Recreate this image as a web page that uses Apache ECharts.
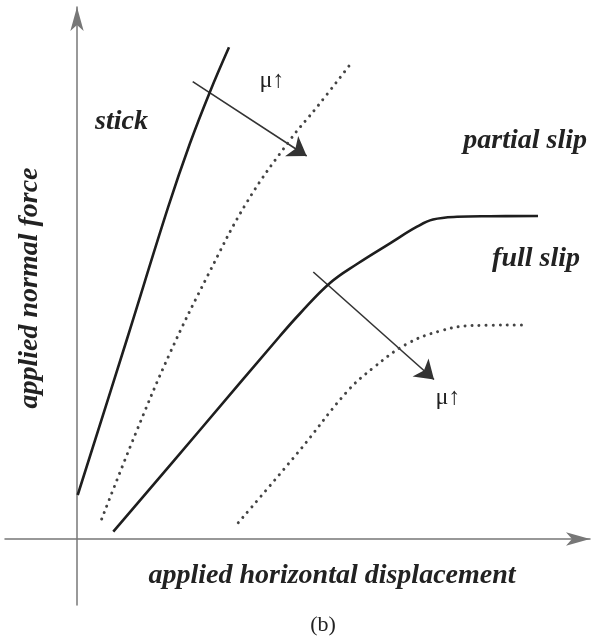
<!DOCTYPE html>
<html>
<head>
<meta charset="utf-8">
<script src="https://cdn.jsdelivr.net/npm/echarts@6/dist/echarts.min.js"></script>
<style>
  html, body { margin: 0; padding: 0; background: #fff; }
  #chart { width: 601px; height: 638px; }
</style>
</head>
<body>
<div id="chart"></div>
<script>
  // curves, arbitrary units (displacement, normal force)
  var stickBoundary = [[0.07, 4.4], [4.97, 19.9], [9.13, 33.23], [11.3, 39.57], [13.3, 44.73], [15.2, 49.17]];
  var stickBoundaryHighMu = [[2.47, 2.0], [5.8, 10.4], [9.3, 18.6], [13.1, 26.4], [17.0, 33.7], [21.3, 39.9], [24.0, 43.2], [27.2, 47.3]];
  var slipBoundary = [[3.63, 0.73], [12.3, 10.9], [20.3, 20.3], [22.3, 22.55], [25.3, 25.6], [28.0, 27.5], [31.3, 29.57], [34.0, 31.23], [35.6, 31.95], [38.0, 32.22], [41.3, 32.28], [46.1, 32.3]];
  var slipBoundaryHighMu = [[16.13, 1.63], [22.3, 8.9], [26.97, 14.7], [29.6, 17.1], [32.97, 19.5], [36.3, 20.8], [39.6, 21.35], [44.8, 21.4]];
  // arrows showing the effect of increasing friction coefficient
  var muArrows = [
    [[11.57, 45.73], [22.97, 38.3]],
    [[23.63, 26.7], [35.7, 15.95]]
  ];

  var chart = echarts.init(document.getElementById('chart'));
  var serif = '"Liberation Serif", "DejaVu Serif", serif';
  var labelFont = 'italic bold 28px ' + serif;

  function curve(data, dotted) {
    return {
      type: 'line',
      data: data,
      smooth: 0.4,
      showSymbol: false,
      silent: true,
      lineStyle: dotted
        ? { color: '#444', width: 3, type: [0.01, 7], cap: 'round' }
        : { color: '#1e1e1e', width: 2.6 }
    };
  }

  function axis(min, max) {
    return {
      type: 'value',
      min: min,
      max: max,
      axisLine: {
        onZero: true,
        symbol: ['none', 'arrow'],
        symbolSize: [10, 24],
        lineStyle: { color: '#777', width: 1.5 }
      },
      axisTick: { show: false },
      axisLabel: { show: false },
      splitLine: { show: false }
    };
  }

  chart.setOption({
    animation: false,
    grid: { left: 5, right: 11, top: 7, bottom: 33 },
    xAxis: axis(-7.2, 51.3),
    yAxis: axis(-6.6, 53.2),
    series: [
      curve(stickBoundary, false),
      curve(stickBoundaryHighMu, true),
      curve(slipBoundary, false),
      curve(slipBoundaryHighMu, true),
      {
        type: 'lines',
        coordinateSystem: 'cartesian2d',
        silent: true,
        symbol: ['none', 'arrow'],
        symbolSize: [10, 18],
        lineStyle: { color: '#333', width: 1.6, opacity: 1 },
        data: muArrows.map(function (a) { return { coords: a }; })
      }
    ],
    graphic: [
      { type: 'text', x: 95, y: 122, style: { text: 'stick', font: labelFont, fill: '#222', verticalAlign: 'middle' } },
      { type: 'text', x: 587, y: 141, style: { text: 'partial slip', font: labelFont, fill: '#222', align: 'right', verticalAlign: 'middle' } },
      { type: 'text', x: 580, y: 259, style: { text: 'full slip', font: labelFont, fill: '#222', align: 'right', verticalAlign: 'middle' } },
      { type: 'text', x: 272, y: 81, style: { text: 'μ↑', font: '24px ' + serif, fill: '#222', align: 'center', verticalAlign: 'middle' } },
      { type: 'text', x: 448, y: 398, style: { text: 'μ↑', font: '24px ' + serif, fill: '#222', align: 'center', verticalAlign: 'middle' } },
      { type: 'text', x: 332, y: 576, style: { text: 'applied horizontal displacement', font: labelFont, fill: '#222', align: 'center', verticalAlign: 'middle' } },
      { type: 'text', x: 30, y: 288, rotation: Math.PI / 2, style: { text: 'applied normal force', font: labelFont, fill: '#222', align: 'center', verticalAlign: 'middle' } },
      { type: 'text', x: 323, y: 625, style: { text: '(b)', font: '22px ' + serif, fill: '#222', align: 'center', verticalAlign: 'middle' } }
    ]
  });
</script>
</body>
</html>
